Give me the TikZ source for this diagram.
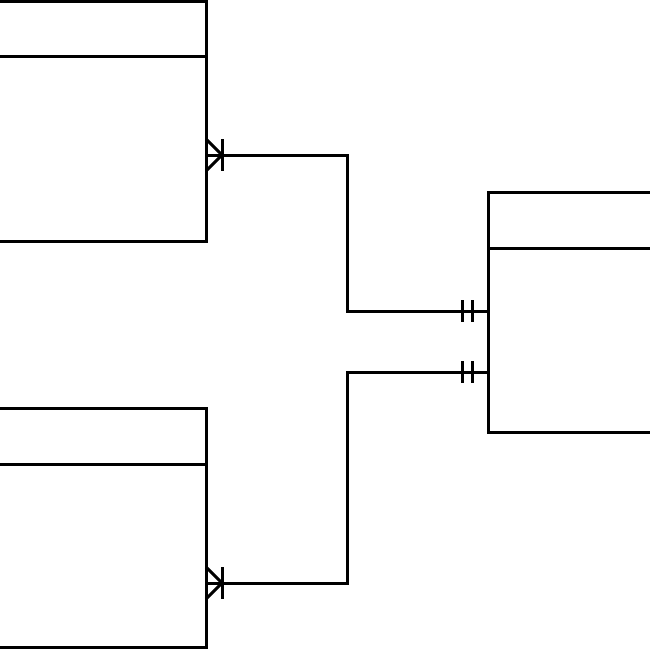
\documentclass[tikz,border=0pt]{standalone}
\usetikzlibrary{calc}
\begin{document}
\begin{tikzpicture}[x=1pt,y=-1pt,line width=3pt,
  entity/.style={draw,rectangle,inner sep=0pt,outer sep=0pt,line width=3pt},
  rel/.style={line width=3pt,line join=miter}]
\useasboundingbox (0,0) rectangle (650,650);
\clip (0,0) rectangle (650,650);
% entities
\node[entity,minimum width=306pt,minimum height=239pt] (a) at (53,121.5) {};
\node[entity,minimum width=306pt,minimum height=239pt] (b) at (53,527.5) {};
\node[entity,minimum width=312pt,minimum height=240pt] (c) at (644,312) {};
% header separators
\draw (a.west |- 0,57) -- (a.east |- 0,57);
\draw (b.west |- 0,464) -- (b.east |- 0,464);
\draw (c.west |- 0,248) -- (c.east |- 0,248);
% connectors
\coordinate (a1) at (a.east |- 0,155);
\coordinate (b1) at (b.east |- 0,583);
\coordinate (c1) at (c.west |- 0,311);
\coordinate (c2) at (c.west |- 0,372);
\draw[rel] (a1) -- (347,155) -- (347,311) -- (c1);
\draw[rel] (c2) -- (347,372) -- (347,583) -- (b1);
% crow's feet (many)
\draw[rel] ($(a1)+(0,-16)$) -- ($(a1)+(16,0)$) -- ($(a1)+(0,16)$);
\draw[rel] ($(a1)+(16,-16)$) -- ($(a1)+(16,16)$);
\draw[rel] ($(b1)+(0,-16)$) -- ($(b1)+(16,0)$) -- ($(b1)+(0,16)$);
\draw[rel] ($(b1)+(16,-16)$) -- ($(b1)+(16,16)$);
% double bars (one and only one)
\draw[rel] ($(c1)+(-26,-11)$) -- ($(c1)+(-26,11)$);
\draw[rel] ($(c1)+(-16,-11)$) -- ($(c1)+(-16,11)$);
\draw[rel] ($(c2)+(-26,-11)$) -- ($(c2)+(-26,11)$);
\draw[rel] ($(c2)+(-16,-11)$) -- ($(c2)+(-16,11)$);
\end{tikzpicture}
\end{document}
